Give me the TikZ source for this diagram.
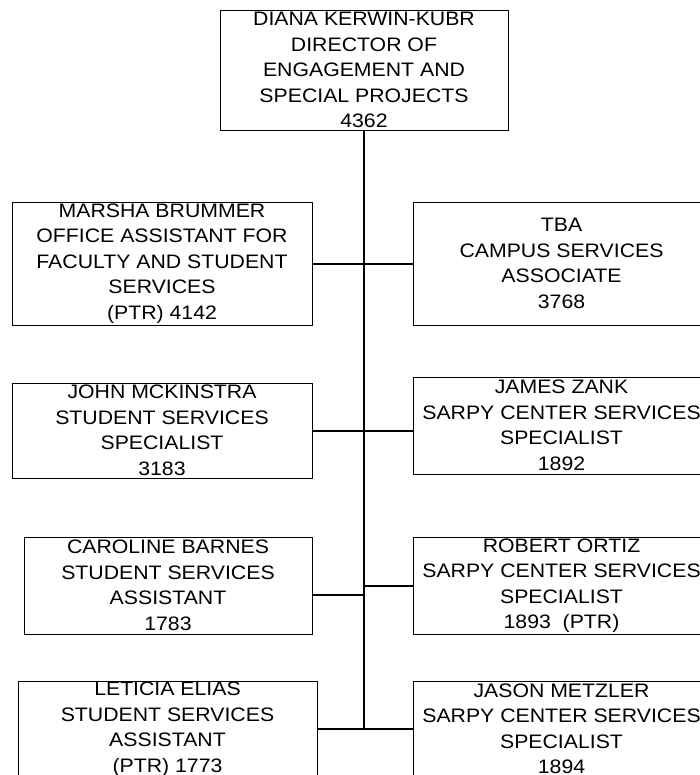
\documentclass[tikz,border=0pt]{standalone}
\usepackage{fontspec}
\setmainfont[FakeStretch=1.09]{Liberation Sans}
\begin{document}
\begin{tikzpicture}[x=1pt,y=-1pt,
  box/.style={draw=black,line width=0.9pt,rectangle,inner sep=0pt,align=center,
    font=\fontsize{19.5}{25.5}\selectfont},
  wire/.style={draw=black,line width=1.3pt}]
\useasboundingbox (0,0) rectangle (700,775);
\node[box,minimum width=288pt,minimum height=120pt] (top) at (364,70) {DIANA KERWIN-KUBR\\DIRECTOR OF\\ENGAGEMENT AND\\SPECIAL PROJECTS\\4362};
\node[box,minimum width=300pt,minimum height=123pt] (l1) at (162,263.5) {MARSHA BRUMMER\\OFFICE ASSISTANT FOR\\FACULTY AND STUDENT\\SERVICES\\(PTR) 4142};
\node[box,minimum width=297pt,minimum height=123pt] (r1) at (561.5,263.5) {TBA\\CAMPUS SERVICES\\ASSOCIATE\\3768};
\node[box,minimum width=300pt,minimum height=95pt] (l2) at (162,430.5) {JOHN MCKINSTRA\\STUDENT SERVICES\\SPECIALIST\\3183};
\node[box,minimum width=297pt,minimum height=97pt] (r2) at (561.5,425.5) {JAMES ZANK\\SARPY CENTER SERVICES\\SPECIALIST\\1892};
\node[box,minimum width=288pt,minimum height=97pt] (l3) at (168,585.5) {CAROLINE BARNES\\STUDENT SERVICES\\ASSISTANT\\1783};
\node[box,minimum width=297pt,minimum height=97pt] (r3) at (561.5,585.5) {ROBERT ORTIZ\\SARPY CENTER SERVICES\\SPECIALIST\\1893\ \ (PTR)};
\node[box,minimum width=299pt,minimum height=96pt] (l4) at (167.5,729) {LETICIA ELIAS\\STUDENT SERVICES\\ASSISTANT\\(PTR) 1773};
\node[box,minimum width=297pt,minimum height=96pt] (r4) at (561.5,729) {JASON METZLER\\SARPY CENTER SERVICES\\SPECIALIST\\1894};
\coordinate (j1) at (364,264);
\coordinate (j2) at (364,431);
\coordinate (j3) at (364,595);
\coordinate (j3r) at (364,586);
\coordinate (j4) at (364,729);
\draw[wire] (top.south) -- (j4);
\draw[wire] (l1.east |- j1) -- (j1) -- (r1.west |- j1);
\draw[wire] (l2.east |- j2) -- (j2) -- (r2.west |- j2);
\draw[wire] (l3.east |- j3) -- (j3);
\draw[wire] (j3r) -- (r3.west |- j3r);
\draw[wire] (l4.east |- j4) -- (j4) -- (r4.west |- j4);
\end{tikzpicture}
\end{document}
